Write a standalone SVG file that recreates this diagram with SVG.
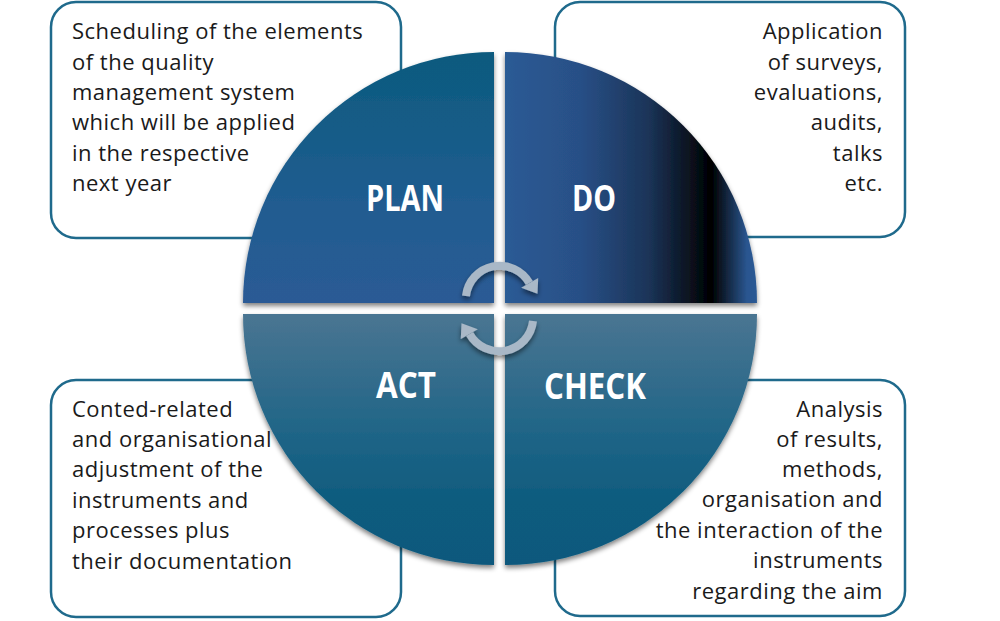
<svg xmlns="http://www.w3.org/2000/svg" width="1000" height="621" viewBox="0 0 1000 621">
<defs>
<style>
.box{fill:#ffffff;stroke:#1f6a8c;stroke-width:2.5}
.body{font-family:"Open Sans","Noto Sans",sans-serif;font-size:22px;letter-spacing:0.5px;fill:#1a1a1a}
.r{text-anchor:end}
.lbl{font-family:"Open Sans","Noto Sans",sans-serif;font-weight:bold;font-size:36px;fill:#ffffff}
.arc{fill:none;stroke:#a9b8c7;stroke-width:8}
.head{fill:#a9b8c7}
</style>
<linearGradient id="gPlan" gradientUnits="userSpaceOnUse" x1="0" y1="52" x2="0" y2="303">
<stop offset="0" stop-color="#0b5a7e"/>
<stop offset="0.6" stop-color="#205c90"/>
<stop offset="1" stop-color="#2b5a95"/>
</linearGradient>
<linearGradient id="gDo" gradientUnits="userSpaceOnUse" x1="505" y1="0" x2="757" y2="0">
<stop offset="0" stop-color="#2b5b95"/>
<stop offset="0.3" stop-color="#284f86"/>
<stop offset="0.57" stop-color="#1b3458"/>
<stop offset="0.82" stop-color="#000000"/>
<stop offset="0.96" stop-color="#2a5690"/>
<stop offset="1" stop-color="#2b5a94"/>
</linearGradient>
<linearGradient id="gLow" gradientUnits="userSpaceOnUse" x1="0" y1="314" x2="0" y2="566">
<stop offset="0" stop-color="#4a7592"/>
<stop offset="0.5" stop-color="#1d6486"/>
<stop offset="0.75" stop-color="#0e5b7e"/>
<stop offset="1" stop-color="#0b597d"/>
</linearGradient>
<filter id="sh" x="-10%" y="-10%" width="120%" height="125%">
<feGaussianBlur in="SourceAlpha" stdDeviation="2.5"/>
<feOffset dy="3" result="b"/>
<feComponentTransfer><feFuncA type="linear" slope="0.5"/></feComponentTransfer>
<feMerge><feMergeNode/><feMergeNode in="SourceGraphic"/></feMerge>
</filter>
</defs>

<g id="box-plan">
<rect class="box" x="51" y="2" width="350" height="236" rx="25"/>
<text class="body"><tspan x="72" y="39">Scheduling of the elements</tspan><tspan x="72" y="70">of the quality</tspan><tspan x="72" y="100">management system</tspan><tspan x="72" y="130">which will be applied</tspan><tspan x="72" y="161">in the respective</tspan><tspan x="72" y="191">next year</tspan></text>
</g>
<g id="box-do">
<rect class="box" x="555" y="2" width="350" height="235" rx="25"/>
<text class="body r"><tspan x="883" y="39">Application</tspan><tspan x="883" y="70">of surveys,</tspan><tspan x="883" y="100">evaluations,</tspan><tspan x="883" y="130">audits,</tspan><tspan x="883" y="161">talks</tspan><tspan x="883" y="191">etc.</tspan></text>
</g>
<g id="box-act">
<rect class="box" x="51" y="380" width="350" height="237" rx="25"/>
<text class="body"><tspan x="72" y="417">Conted-related</tspan><tspan x="72" y="447">and organisational</tspan><tspan x="72" y="477">adjustment of the</tspan><tspan x="72" y="508">instruments and</tspan><tspan x="72" y="538">processes plus</tspan><tspan x="72" y="569">their documentation</tspan></text>
</g>
<g id="box-check">
<rect class="box" x="555" y="380" width="350" height="236" rx="25"/>
<text class="body r"><tspan x="883" y="417">Analysis</tspan><tspan x="883" y="447">of results,</tspan><tspan x="883" y="477">methods,</tspan><tspan x="883" y="507">organisation and</tspan><tspan x="883" y="538">the interaction of the</tspan><tspan x="883" y="568">instruments</tspan><tspan x="883" y="599">regarding the aim</tspan></text>
</g>

<g id="plan">
<path d="M494,303 L243,303 A251,251 0 0 1 494,52 Z" fill="url(#gPlan)" filter="url(#sh)"/>
<text class="lbl" x="366" y="211" textLength="78" lengthAdjust="spacingAndGlyphs">PLAN</text>
</g>
<g id="do">
<path d="M505,303 L505,52 A252,251 0 0 1 757,303 Z" fill="url(#gDo)" filter="url(#sh)"/>
<text class="lbl" x="572" y="211" textLength="44" lengthAdjust="spacingAndGlyphs">DO</text>
</g>
<g id="act">
<path d="M494,314 L494,565 A251,251 0 0 1 243,314 Z" fill="url(#gLow)" filter="url(#sh)"/>
<text class="lbl" x="376" y="398" textLength="60" lengthAdjust="spacingAndGlyphs">ACT</text>
</g>
<g id="check">
<path d="M505,314 L757,314 A252,251 0 0 1 505,565 Z" fill="url(#gLow)" filter="url(#sh)"/>
<text class="lbl" x="544" y="399" textLength="102" lengthAdjust="spacingAndGlyphs">CHECK</text>
</g>

<g id="connectors" filter="url(#sh)">
<g id="arrow-top">
<path class="arc" d="M466,296 A34,34 0 0 1 529.4,283"/>
<polygon class="head" points="537.5,293.8 521.2,287.7 538.2,277.9"/>
</g>
<g id="arrow-bottom" transform="rotate(180 499.5 308.5)">
<path class="arc" d="M466,296 A34,34 0 0 1 529.4,283"/>
<polygon class="head" points="537.5,293.8 521.2,287.7 538.2,277.9"/>
</g>
</g>
</svg>
